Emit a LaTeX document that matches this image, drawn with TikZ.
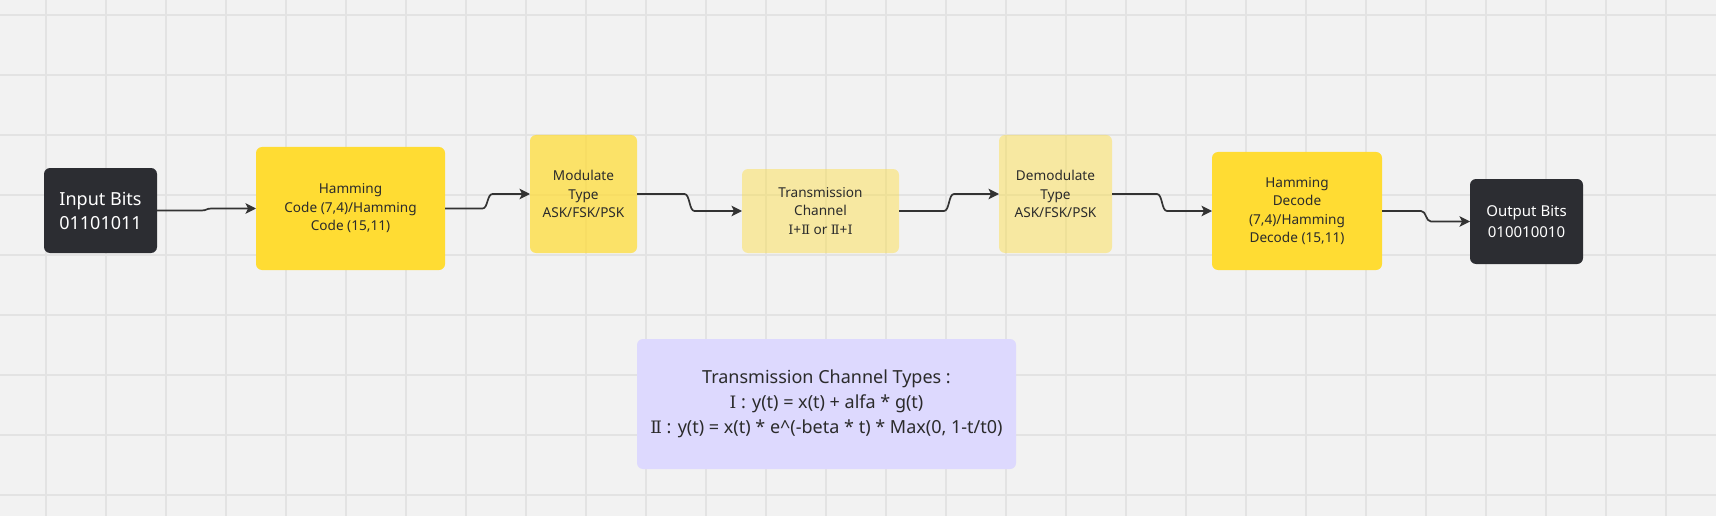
\documentclass[tikz,border=0pt]{standalone}
\usepackage{fontspec}
\setmainfont{Noto Sans}
\newfontfamily\romnumfont{DejaVu Serif}[Scale=0.95]
\newcommand{\rmI}{{\romnumfont Ⅰ}}
\newcommand{\rmII}{{\romnumfont Ⅱ}}
\usetikzlibrary{arrows.meta,calc}
\definecolor{bg}{HTML}{F2F2F2}
\definecolor{gridc}{HTML}{E3E3E3}
\definecolor{darkbox}{HTML}{2C2D32}
\definecolor{yel}{HTML}{FFDC33}
\definecolor{lav}{HTML}{DDD9FE}
\definecolor{ink}{HTML}{2B2B2B}
\definecolor{arrowc}{HTML}{333333}
\begin{document}
\begin{tikzpicture}[x=1pt,y=-1pt,
  box/.style={rectangle, rounded corners=6pt, inner sep=0pt, outer sep=0pt, align=center, text=ink},
  darkb/.style={box, fill=darkbox, text=white},
  yelb/.style={box, fill=yel},
  modb/.style={box, fill=yel, fill opacity=0.72, text opacity=1},
  paleb/.style={box, fill=yel, fill opacity=0.42, text opacity=1},
  lavb/.style={box, fill=lav},
  smalltxt/.style={font=\fontsize{13.6pt}{18.5pt}\selectfont},
  conn/.style={draw=arrowc, line width=1.7pt,
    -{Stealth[length=10.5pt,width=10.5pt,inset=2.5pt]},
    to path={let \p1=(\tikztostart), \p2=(\tikztotarget),
      \p3=($(\tikztostart)!0.5!(\tikztotarget)$) in
      -- ({\x3-5pt},\y1) .. controls ({\x3+0.5pt},\y1) and ({\x3-0.5pt},\y2) .. ({\x3+5pt},\y2)
      -- (\tikztotarget)}}
]
\useasboundingbox (0,0) rectangle (1716,516);
\fill[bg] (0,0) rectangle (1716,516);
\foreach \i in {0,...,27} \draw[gridc, line width=1.2pt] ({46+60*\i},0) -- ({46+60*\i},516);
\foreach \j in {0,...,8} \draw[gridc, line width=1.2pt] (0,{15+60*\j}) -- (1716,{15+60*\j});

\node[darkb, minimum width=113pt, minimum height=85pt, font=\fontsize{18pt}{24pt}\selectfont] (inb) at (100.5,210.5) {Input Bits\\01101011};
\node[yelb, smalltxt, minimum width=189pt, minimum height=123pt] (ham) at (350.5,208.5) {Hamming\\Code (7,4)/Hamming\\Code (15,11)};
\node[modb, smalltxt, minimum width=107pt, minimum height=118pt] (mod) at (583.5,194) {Modulate\\Type\\ASK/FSK/PSK};
\node[paleb, smalltxt, minimum width=157pt, minimum height=84pt] (tra) at (820.5,211) {Transmission\\Channel\\\rmI+\rmII{} or \rmII+\rmI};
\node[paleb, smalltxt, minimum width=113pt, minimum height=118pt] (dem) at (1055.5,194) {Demodulate\\Type\\ASK/FSK/PSK};
\node[yelb, smalltxt, minimum width=170pt, minimum height=118pt] (hd) at (1297,211) {Hamming\\Decode\\(7,4)/Hamming\\Decode (15,11)};
\node[darkb, minimum width=113pt, minimum height=85pt, font=\fontsize{15pt}{20.5pt}\selectfont] (outb) at (1526.5,221.5) {Output Bits\\010010010};
\node[lavb, minimum width=379pt, minimum height=130pt, font=\fontsize{18pt}{25pt}\selectfont] (types) at (826.5,404) {Transmission Channel Types :\\\rmI{} : y(t) = x(t) + alfa * g(t)\\\rmII{} : y(t) = x(t) * e\textasciicircum(-beta * t) * Max(0, 1-t/t0)};

\draw[conn] (inb.east) to (ham.west);
\draw[conn] (ham.east) to (mod.west);
\draw[conn] (mod.east) to (tra.west);
\draw[conn] (tra.east) to (dem.west);
\draw[conn] (dem.east) to (hd.west);
\draw[conn] (hd.east) to (outb.west);
\end{tikzpicture}
\end{document}
